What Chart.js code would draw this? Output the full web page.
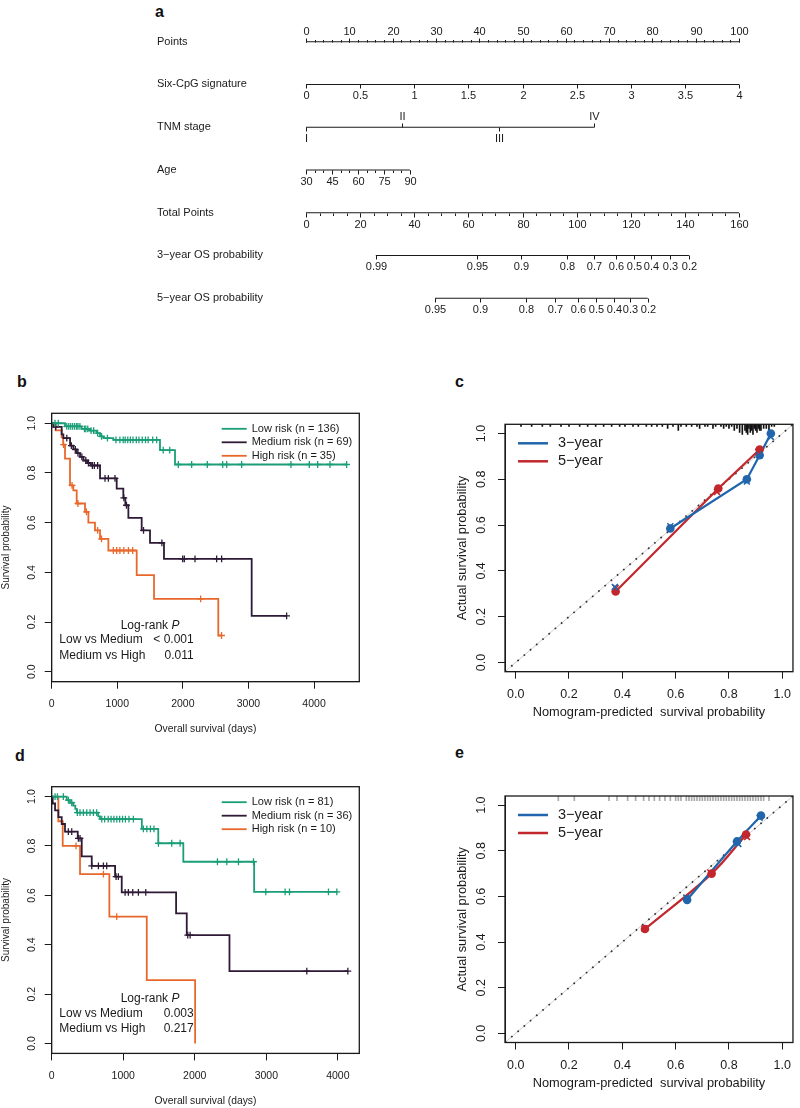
<!DOCTYPE html>
<html>
<head>
<meta charset="utf-8">
<title>Nomogram, survival and calibration</title>
<script src="https://cdn.jsdelivr.net/npm/chart.js@4.4.1/dist/chart.umd.min.js"></script>
<style>
  html, body { margin: 0; padding: 0; background: #fff; }
  body { position: relative; width: 800px; height: 1108px; overflow: hidden;
         font-family: "Liberation Sans", Arial, Helvetica, sans-serif; }
  canvas { position: absolute; }
  .tag { position: absolute; font-weight: bold; font-size: 16px; line-height: 16px; color: #111; }
</style>
</head>
<body>
<div class="tag" style="left:155px;top:4px">a</div>
<div class="tag" style="left:17px;top:374px">b</div>
<div class="tag" style="left:455px;top:374px">c</div>
<div class="tag" style="left:15px;top:748px">d</div>
<div class="tag" style="left:455px;top:745px">e</div>

<canvas id="nomogram" width="800" height="340" style="left:0;top:0"></canvas>
<canvas id="kmTrain" width="400" height="370" style="left:0;top:370px"></canvas>
<canvas id="calTrain" width="400" height="350" style="left:400px;top:375px"></canvas>
<canvas id="kmTest" width="400" height="368" style="left:0;top:740px"></canvas>
<canvas id="calTest" width="400" height="363" style="left:400px;top:745px"></canvas>

<script>
const FONT = '"Liberation Sans", Arial, Helvetica, sans-serif';
const INK = '#1a1a1a';

// ---- panel a: nomogram ----
const nomoRows = ['Points', 'Six-CpG signature', 'TNM stage', 'Age', 'Total Points',
  '3\u2212year OS probability', '5\u2212year OS probability'];
const pointsTicks = [0, 10, 20, 30, 40, 50, 60, 70, 80, 90, 100];
const cpgTicks = [0, 0.5, 1, 1.5, 2, 2.5, 3, 3.5, 4];
const tnmStages = ['I', 'II', 'III', 'IV'];
const tnmPoints = [0, 22.2, 44.5, 66.5];
const ageTicks = [30, 45, 60, 75, 90];
const totalTicks = [0, 20, 40, 60, 80, 100, 120, 140, 160];
const os3Labels = ['0.99', '0.95', '0.9', '0.8', '0.7', '0.6', '0.5', '0.4', '0.3', '0.2'];
const os3Total = [25.8, 63.2, 79.5, 96.5, 106.4, 114.5, 121.1, 127.5, 134.4, 141.5];
const os5Labels = ['0.95', '0.9', '0.8', '0.7', '0.6', '0.5', '0.4', '0.3', '0.2'];
const os5Total = [47.7, 64.3, 81.2, 92.0, 100.4, 107.1, 113.7, 119.9, 126.3];

// point scales
const cpgPointsPerUnit = 25;   // signature 4 -> 100 points
const agePointsPerYear = 0.4;  // age 90 -> 24 points
const totalPerPoint = 1.6;     // 160 total -> end of points axis

// ---- panel b: KM, training set ----
const lowB = {
  times: [0, 203, 457, 584, 686, 737, 788, 940, 1651, 1880, 4500],
  surv: [1, 0.987, 0.977, 0.97, 0.96, 0.947, 0.94, 0.933, 0.892, 0.834, 0.834],
  censor: [50, 100, 230, 260, 290, 320, 350, 380, 400, 430, 500, 520, 550, 600, 640, 700, 760, 850,
    980, 1040, 1090, 1120, 1160, 1200, 1240, 1290, 1330, 1380, 1430, 1470, 1540, 1600, 1700, 1800,
    1931, 2134, 2373, 2607, 2668, 2896, 3648, 3928, 4055, 4243, 4497]
};
const medB = {
  times: [0, 25, 152, 178, 280, 330, 381, 432, 483, 544, 595, 737, 991, 1092, 1123, 1169, 1372, 1499, 1712, 3049, 3582],
  surv: [1, 0.985, 0.955, 0.94, 0.91, 0.895, 0.88, 0.865, 0.85, 0.84, 0.83, 0.778, 0.737, 0.70, 0.67, 0.619, 0.569, 0.519, 0.454, 0.225, 0.225],
  censor: [60, 230, 300, 360, 400, 460, 520, 560, 620, 650, 700, 813, 864, 965, 1100, 1140, 1400, 1680,
    1997, 2022, 2185, 2515, 2591, 3582]
};
const highB = {
  times: [0, 60, 152, 175, 203, 279, 330, 381, 508, 559, 660, 737, 864, 1296, 1560, 2540, 2590],
  surv: [1, 0.971, 0.943, 0.914, 0.858, 0.75, 0.73, 0.677, 0.643, 0.60, 0.569, 0.535, 0.488, 0.389, 0.293, 0.146, 0.146],
  censor: [180, 310, 400, 530, 700, 760, 940, 990, 1040, 1100, 1170, 1235, 2271, 2590]
};

// ---- panel d: KM, validation set ----
const lowD = {
  times: [0, 210, 256, 300, 330, 350, 650, 676, 1260, 1490, 1840, 2830, 3995],
  surv: [1, 0.986, 0.975, 0.963, 0.95, 0.935, 0.92, 0.909, 0.869, 0.811, 0.736, 0.614, 0.614],
  censor: [47, 80, 163, 233, 280, 359, 396, 443, 490, 536, 583, 629, 700, 740, 790, 830, 870, 910, 950,
    990, 1030, 1080, 1142, 1282, 1330, 1380, 1430, 1492, 1678, 1795, 2317, 2448, 2611, 2821, 2993,
    3263, 3324, 3869, 3986]
};
const medD = {
  times: [0, 14, 47, 93, 140, 186, 364, 420, 560, 886, 979, 1739, 1888, 2485, 4140],
  surv: [1, 0.972, 0.944, 0.917, 0.889, 0.858, 0.831, 0.758, 0.719, 0.676, 0.612, 0.527, 0.439, 0.293, 0.293],
  censor: [233, 280, 373, 396, 560, 653, 723, 769, 900, 932, 1026, 1072, 1133, 1212, 1315, 1902, 1935, 3566, 4140]
};
const highD = {
  times: [0, 93, 154, 396, 806, 1329, 2005],
  surv: [1, 0.9, 0.8, 0.686, 0.514, 0.257, 0],
  censor: [340, 723, 909]
};

const riskColors = ['#1b9e77', '#2e1a36', '#e8682c'];
const riskNamesB = ['Low risk (n = 136)', 'Medium risk (n = 69)', 'High risk (n = 35)'];
const riskNamesD = ['Low risk (n = 81)', 'Medium risk (n = 36)', 'High risk (n = 10)'];
const dayTicksB = [0, 1000, 2000, 3000, 4000];
const dayTicksD = [0, 1000, 2000, 3000, 4000];
const survTicks = [0, 0.2, 0.4, 0.6, 0.8, 1.0];

// ---- panels c and e: calibration ----
const calC = {
  obs3Pred: [0.58, 0.867, 0.915, 0.957], obs3: [0.585, 0.80, 0.905, 1.0],
  cor3Pred: [0.372, 0.58, 0.867, 0.915, 0.957], cor3: [0.33, 0.595, 0.79, 0.905, 0.985],
  obs5Pred: [0.375, 0.76, 0.915], obs5: [0.31, 0.76, 0.93],
  cor5Pred: [0.375, 0.755, 0.91], cor5: [0.325, 0.745, 0.92]
};
const calE = {
  obs3Pred: [0.643, 0.83, 0.92], obs3: [0.585, 0.841, 0.954],
  cor3Pred: [0.64, 0.835, 0.915], cor3: [0.595, 0.83, 0.945],
  obs5Pred: [0.485, 0.735, 0.864], obs5: [0.457, 0.70, 0.871],
  cor5Pred: [0.483, 0.73, 0.868], cor5: [0.46, 0.705, 0.86]
};
const rugCPred = [0.02, 0.06, 0.1, 0.13, 0.17, 0.2, 0.24, 0.27, 0.3, 0.33, 0.36, 0.39, 0.41, 0.44, 0.46,
  0.49, 0.51, 0.53, 0.55, 0.57, 0.59, 0.61, 0.62, 0.64, 0.66, 0.68, 0.69, 0.71, 0.72, 0.74, 0.75, 0.77,
  0.78, 0.79, 0.8, 0.81, 0.82, 0.83, 0.84, 0.85, 0.86, 0.865, 0.87, 0.875, 0.88, 0.885, 0.89, 0.895,
  0.9, 0.905, 0.91, 0.915, 0.92, 0.93, 0.94, 0.95, 0.96, 0.97];
const rugCCount = [1, 1, 1, 1, 1, 1, 1, 1, 1, 1, 1, 1, 1, 1, 1, 1, 1, 1, 1, 2, 1, 3, 1, 1, 1, 1, 2, 1, 1,
  2, 1, 1, 2, 1, 2, 1, 3, 2, 4, 5, 3, 4, 5, 2, 4, 3, 5, 2, 3, 4, 2, 3, 3, 2, 2, 3, 1, 1];
const rugEPred = [0.16, 0.22, 0.35, 0.38, 0.42, 0.45, 0.48, 0.5, 0.52, 0.54, 0.56, 0.58, 0.6, 0.61, 0.62,
  0.64, 0.65, 0.66, 0.67, 0.68, 0.69, 0.7, 0.71, 0.72, 0.73, 0.74, 0.75, 0.76, 0.77, 0.78, 0.79, 0.8,
  0.81, 0.82, 0.83, 0.84, 0.85, 0.86, 0.87, 0.88, 0.89, 0.9, 0.91, 0.92, 0.93, 0.95];
const rugECount = rugEPred.map(() => 1);
const probTicks = [0, 0.2, 0.4, 0.6, 0.8, 1.0];
const refLine = [-0.04, 1.04];
const yearColors = ['#2166ac', '#c1272d'];
const yearNames = ['3\u2212year', '5\u2212year'];

Chart.defaults.font.family = FONT;
Chart.defaults.color = INK;

// nomogram axes in "points" units
function stepRange(a, b, s) { const out = []; for (let v = a; v <= b + 1e-9; v += s) out.push(v); return out; }
const nomoAxes = [
  { row: 0, ticks: pointsTicks.map(v => ({ p: v, label: String(v), side: -1 })),
    minor: stepRange(0, 100, 2), minorSide: -1 },
  { row: 1, ticks: cpgTicks.map(v => ({ p: v * cpgPointsPerUnit, label: String(v), side: 1 })) },
  { row: 2, ticks: tnmStages.map((s, i) => ({ p: tnmPoints[i], label: s, side: i % 2 ? -1 : 1 })) },
  { row: 3, ticks: ageTicks.map(a => ({ p: (a - 30) * agePointsPerYear, label: String(a), side: 1 })),
    minor: stepRange(30, 90, 5).map(a => (a - 30) * agePointsPerYear), minorSide: 1 },
  { row: 4, ticks: totalTicks.map(t => ({ p: t / totalPerPoint, label: String(t), side: 1 })),
    minor: stepRange(0, 160, 5).map(t => t / totalPerPoint), minorSide: 1 },
  { row: 5, ticks: os3Labels.map((l, i) => ({ p: os3Total[i] / totalPerPoint, label: l, side: 1 })) },
  { row: 6, ticks: os5Labels.map((l, i) => ({ p: os5Total[i] / totalPerPoint, label: l, side: 1 })) }
];

const nomoTicks = {
  id: 'nomoTicks',
  afterDatasetsDraw(chart) {
    const { ctx, scales: { x, y } } = chart;
    ctx.save();
    ctx.strokeStyle = INK;
    ctx.fillStyle = INK;
    ctx.lineWidth = 1;
    ctx.font = '11px ' + FONT;
    ctx.textAlign = 'center';
    ctx.textBaseline = 'middle';
    nomoAxes.forEach(ax => {
      const py = Math.round(y.getPixelForValue(ax.row)) + 0.5;
      (ax.minor || []).forEach(p => {
        const px = Math.round(x.getPixelForValue(p)) + 0.5;
        ctx.beginPath(); ctx.moveTo(px, py); ctx.lineTo(px, py + ax.minorSide * 2.5); ctx.stroke();
      });
      ax.ticks.forEach(t => {
        const px = Math.round(x.getPixelForValue(t.p)) + 0.5;
        ctx.beginPath(); ctx.moveTo(px, py); ctx.lineTo(px, py + t.side * 4); ctx.stroke();
        ctx.fillText(t.label, px, py + t.side * 11);
      });
    });
    ctx.restore();
  }
};

new Chart(document.getElementById('nomogram'), {
  type: 'scatter',
  data: {
    datasets: nomoAxes.map(ax => {
      const ps = ax.ticks.map(t => t.p);
      return {
        data: [{ x: Math.min(...ps), y: ax.row }, { x: Math.max(...ps), y: ax.row }],
        showLine: true, borderColor: INK, borderWidth: 1.1, pointRadius: 0
      };
    })
  },
  options: {
    responsive: false, animation: false,
    layout: { padding: { left: 157, right: 61, top: 20.3, bottom: 20.4 } },
    plugins: { legend: { display: false }, tooltip: { enabled: false } },
    scales: {
      x: { type: 'linear', display: false, min: 0, max: 100 },
      y: {
        type: 'linear', reverse: true, min: -0.5, max: 6.5,
        afterBuildTicks: s => { s.ticks = nomoRows.map((r, i) => ({ value: i })); },
        afterFit: s => { s.width = 149; },
        ticks: { callback: v => nomoRows[v], crossAlign: 'far', autoSkip: false, font: { size: 11 }, color: INK },
        grid: { display: false }, border: { display: false }
      }
    }
  },
  plugins: [nomoTicks]
});

// ---- shared plugins for the R-style panels ----
const boxPlugin = {
  id: 'box',
  afterDatasetsDraw(chart) {
    const { ctx, chartArea: a } = chart;
    ctx.save();
    ctx.strokeStyle = INK;
    ctx.lineWidth = 1.3;
    ctx.strokeRect(a.left, a.top, a.right - a.left, a.bottom - a.top);
    ctx.restore();
  }
};

const rYLabels = {
  id: 'rYLabels',
  afterDraw(chart, args, opts) {
    const { ctx, scales: { y }, chartArea } = chart;
    ctx.save();
    ctx.font = opts.size + 'px ' + FONT;
    ctx.fillStyle = INK;
    ctx.textAlign = 'center';
    ctx.textBaseline = 'middle';
    y.ticks.forEach(t => {
      ctx.save();
      ctx.translate(chartArea.left - opts.offset, y.getPixelForValue(t.value));
      ctx.rotate(-Math.PI / 2);
      ctx.fillText(t.value.toFixed(1), 0, 0);
      ctx.restore();
    });
    ctx.restore();
  }
};

const lineLegend = {
  id: 'lineLegend',
  afterDraw(chart, args, o) {
    const { ctx, chartArea: a } = chart;
    ctx.save();
    ctx.font = o.size + 'px ' + FONT;
    ctx.fillStyle = INK;
    ctx.textAlign = 'left';
    ctx.textBaseline = 'middle';
    o.items.forEach((it, i) => {
      const yy = a.top + o.y0 + i * o.dy;
      ctx.strokeStyle = it.color;
      ctx.lineWidth = o.lineWidth;
      ctx.beginPath(); ctx.moveTo(a.left + o.x0, yy); ctx.lineTo(a.left + o.x1, yy); ctx.stroke();
      ctx.fillText(it.label, a.left + o.tx, yy);
    });
    ctx.restore();
  }
};

const logRank = {
  id: 'logRank',
  afterDraw(chart, args, o) {
    const { ctx, chartArea: a } = chart;
    ctx.save();
    ctx.fillStyle = INK;
    ctx.textBaseline = 'middle';
    ctx.textAlign = 'left';
    ctx.font = o.size + 'px ' + FONT;
    const head = 'Log-rank ';
    ctx.fillText(head, a.left + o.headX, a.top + o.y[0]);
    const w = ctx.measureText(head).width;
    ctx.font = 'italic ' + o.size + 'px ' + FONT;
    ctx.fillText('P', a.left + o.headX + w, a.top + o.y[0]);
    ctx.font = o.size + 'px ' + FONT;
    o.rows.forEach((r, i) => {
      ctx.textAlign = 'left';
      ctx.fillText(r[0], a.left + o.x, a.top + o.y[i + 1]);
      ctx.textAlign = 'right';
      ctx.fillText(r[1], a.left + o.valueX, a.top + o.y[i + 1]);
    });
    ctx.restore();
  }
};

function stepAt(g, t) {
  let s = g.surv[0];
  g.times.forEach((tt, i) => { if (tt <= t) s = g.surv[i]; });
  return s;
}

function kmDatasets(groups) {
  const sets = [];
  groups.forEach((g, k) => {
    sets.push({
      data: g.censor.map(t => ({ x: t, y: stepAt(g, t) })),
      pointStyle: 'cross', pointRadius: 3.4, borderColor: riskColors[k], borderWidth: 1.3, showLine: false
    });
    sets.push({
      data: g.times.map((t, i) => ({ x: t, y: g.surv[i] })),
      showLine: true, stepped: true, borderColor: riskColors[k], borderWidth: 1.8, pointRadius: 0
    });
  });
  return sets;
}

function kmChart(id, groups, names, xMax, dayTicks, pad, axisH, rows) {
  new Chart(document.getElementById(id), {
    type: 'scatter',
    data: { datasets: kmDatasets(groups) },
    options: {
      responsive: false, animation: false,
      layout: { padding: pad },
      plugins: {
        legend: { display: false }, tooltip: { enabled: false },
        rYLabels: { offset: 20, size: 10.5 },
        lineLegend: { x0: 170, x1: 195, tx: 200, y0: 15.5, dy: 13.5, size: 11, lineWidth: 1.8,
          items: names.map((n, i) => ({ label: n, color: riskColors[i] })) },
        logRank: { size: 12, headX: 69, x: 7.6, valueX: 142, y: [212, 226.5, 242], rows: rows }
      },
      scales: {
        x: {
          type: 'linear', min: 0, max: xMax,
          afterBuildTicks: s => { s.ticks = dayTicks.map(v => ({ value: v })); },
          afterFit: s => { s.height = axisH; },
          ticks: { callback: v => String(v), autoSkip: false, maxRotation: 0, padding: 9, font: { size: 10.5 }, color: INK },
          grid: { drawOnChartArea: false, tickLength: 7, color: INK },
          border: { color: INK },
          title: { display: true, text: 'Overall survival (days)', padding: 0, font: { size: 10.3 }, color: INK }
        },
        y: {
          type: 'linear', min: -0.04, max: 1.04,
          afterBuildTicks: s => { s.ticks = survTicks.map(v => ({ value: v })); },
          afterFit: s => { s.width = 51.7; },
          ticks: { display: false },
          grid: { drawOnChartArea: false, tickLength: 7, color: INK },
          border: { color: INK },
          title: { display: true, text: 'Survival probability', padding: 0, font: { size: 10 }, color: INK }
        }
      }
    },
    plugins: [boxPlugin, rYLabels, lineLegend, logRank]
  });
}

kmChart('kmTrain', [lowB, medB, highB], riskNamesB, 4690, dayTicksB,
  { left: 0, top: 43.3, right: 40.7, bottom: 4.8 }, 53.5,
  [['Low vs Medium', '< 0.001'], ['Medium vs High', '0.011']]);
kmChart('kmTest', [lowD, medD, highD], riskNamesD, 4300, dayTicksD,
  { left: 0, top: 46.7, right: 40.7, bottom: 0.8 }, 53.8,
  [['Low vs Medium', '0.003'], ['Medium vs High', '0.217']]);

function pts(xs, ys) { return xs.map((v, i) => ({ x: v, y: ys[i] })); }

function calChart(id, cal, rugPred, rugCount, rugUnit, rugColor, tension, pad, axisH) {
  const top = refLine[1];
  new Chart(document.getElementById(id), {
    type: 'scatter',
    data: {
      datasets: [
        { data: pts(cal.cor3Pred, cal.cor3), pointStyle: 'crossRot', pointRadius: 4.2, borderColor: yearColors[0], borderWidth: 1.6 },
        { data: pts(cal.cor5Pred, cal.cor5), pointStyle: 'crossRot', pointRadius: 4.2, borderColor: yearColors[1], borderWidth: 1.6 },
        { data: pts(cal.obs3Pred, cal.obs3), pointStyle: 'circle', pointRadius: 4.3, borderWidth: 0,
          backgroundColor: yearColors[0], borderColor: yearColors[0] },
        { data: pts(cal.obs5Pred, cal.obs5), pointStyle: 'circle', pointRadius: 4.3, borderWidth: 0,
          backgroundColor: yearColors[1], borderColor: yearColors[1] },
        { data: pts(cal.obs3Pred, cal.obs3), showLine: true, tension: tension, pointRadius: 0, borderColor: yearColors[0], borderWidth: 2.2 },
        { data: pts(cal.obs5Pred, cal.obs5), showLine: true, tension: tension, pointRadius: 0, borderColor: yearColors[1], borderWidth: 2.2 },
        { type: 'bar', data: rugPred.map((p, i) => ({ x: p, y: [top, top - rugCount[i] * rugUnit] })),
          backgroundColor: rugColor, barThickness: 1, grouped: false },
        { data: pts(refLine, refLine), showLine: true, pointRadius: 0, borderColor: '#333', borderWidth: 1.7, borderDash: [1.7, 6.5] },
        { data: pts(refLine, refLine), showLine: true, pointRadius: 0, borderColor: '#cfcfcf', borderWidth: 1 }
      ]
    },
    options: {
      responsive: false, animation: false,
      layout: { padding: pad },
      plugins: {
        legend: { display: false }, tooltip: { enabled: false },
        rYLabels: { offset: 23.3, size: 12.5 },
        lineLegend: { x0: 13, x1: 43, tx: 53, y0: 19, dy: 18, size: 14.5, lineWidth: 2.5,
          items: yearNames.map((n, i) => ({ label: n, color: yearColors[i] })) }
      },
      scales: {
        x: {
          type: 'linear', min: -0.04, max: 1.04, offset: false,
          afterBuildTicks: s => { s.ticks = probTicks.map(v => ({ value: v })); },
          afterFit: s => { s.height = axisH; },
          ticks: { callback: v => v.toFixed(1), autoSkip: false, maxRotation: 0, padding: 8.8, font: { size: 12.5 }, color: INK },
          grid: { drawOnChartArea: false, offset: false, tickLength: 7, color: INK },
          border: { color: INK },
          title: { display: true, text: 'Nomogram-predicted  survival probability', padding: 0, font: { size: 12.8 }, color: INK }
        },
        y: {
          type: 'linear', min: -0.04, max: 1.04,
          afterBuildTicks: s => { s.ticks = probTicks.map(v => ({ value: v })); },
          afterFit: s => { s.width = 50; },
          ticks: { display: false },
          grid: { drawOnChartArea: false, tickLength: 7, color: INK },
          border: { color: INK },
          title: { display: true, text: 'Actual survival probability', padding: 0, font: { size: 12.8 }, color: INK }
        }
      }
    },
    plugins: [boxPlugin, rYLabels, lineLegend]
  });
}

calChart('calTrain', calC, rugCPred, rugCCount, 0.0088, '#111', 0,
  { left: 55, top: 49.3, right: 2.7, bottom: 5.3 }, 48);
calChart('calTest', calE, rugEPred, rugECount, 0.02, '#aaa', 0.35,
  { left: 55, top: 51, right: 2.7, bottom: 17.3 }, 48.2);
</script>
</body>
</html>
